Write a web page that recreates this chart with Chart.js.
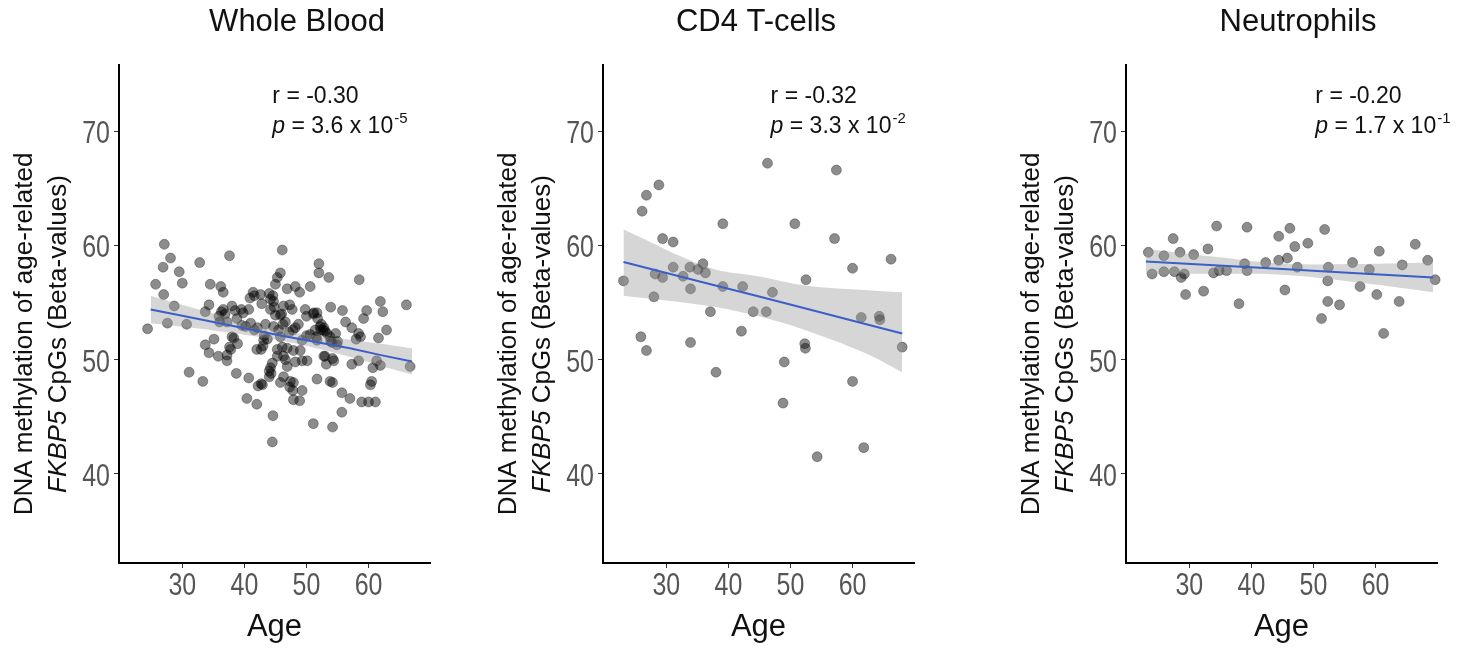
<!DOCTYPE html>
<html>
<head>
<meta charset="utf-8">
<script src="https://cdn.jsdelivr.net/npm/chart.js@4.4.0/dist/chart.umd.min.js"></script>
<style>
body{margin:0;background:#fff;width:1471px;height:650px;position:relative;overflow:hidden}
canvas{position:absolute;top:0}
</style>
</head>
<body>
<canvas id="wb" width="464" height="650" style="left:0"></canvas>
<canvas id="cd4" width="464" height="650" style="left:484px"></canvas>
<canvas id="neu" width="464" height="650" style="left:1007px"></canvas>
<script>
// age / methylation pairs for each cell type
const ageWB = [24.4,25.7,26.9,27.1,27.0,28.1,28.7,27.6,29.5,30.0,30.7,31.1,32.8,33.3,33.7,34.3,33.7,34.3,34.5,35.1,
  35.8,36.0,36.2,36.6,36.6,37.6,37.2,37.8,37.2,38.0,38.3,38.8,38.9,38.7,39.5,40.4,40.7,40.7,40.9,41.4,
  41.6,42.0,42.2,42.0,42.7,42.8,43.2,43.4,43.7,44.0,44.2,44.2,44.3,44.5,44.6,44.8,45.0,45.3,45.8,46.1,
  45.8,45.5,46.1,46.3,46.6,46.9,47.3,47.8,47.9,48.2,47.9,47.8,47.9,48.9,49.3,49.0,49.3,48.2,48.9,50.0,
  49.8,50.6,51.1,51.4,51.1,51.7,52.0,52.0,52.4,52.7,53.0,53.6,53.9,53.9,54.2,54.2,54.4,54.7,55.0,55.7,
  55.7,55.8,56.3,57.0,57.3,57.3,58.0,58.4,58.4,58.5,58.9,59.2,59.7,60.0,60.3,60.7,61.1,61.3,61.6,61.9,
  62.3,62.9,66.1,66.7,35.9,38.5,37.2,37.6,38.0,39.8,42.6,41.0,42.1,42.9,44.0,44.5,43.1,43.0,44.7,44.2,
  45.0,44.7,46.3,46.2,45.8,45.3,45.3,46.6,46.9,47.2,47.7,45.8,47.3,50.1,48.7,48.2,50.0,51.2,51.7,51.8,
  51.6,51.7,52.2,52.8,53.3,53.8,54.1,54.9,52.8,53.2,54.2,53.8,58.7,61.9,60.5,49.3,50.6,46.9,46.3,47.4,
  42.7,41.6,44.6,52.3,53.0,44.0,46.0,40.2,39.6,36.3,36.9];
const methWB = [52.7,56.6,58.1,60.1,55.7,58.9,54.7,53.2,57.7,56.7,53.1,48.9,58.5,48.1,51.3,50.6,54.2,54.8,56.6,51.8,
  50.3,53.3,56.4,55.9,54.4,59.1,53.3,50.9,49.9,54.7,51.9,53.6,51.4,48.8,54.4,46.6,48.4,54.4,55.4,55.9,
  52.6,50.9,47.7,46.1,47.9,54.9,52.1,53.1,51.8,55.8,55.3,49.3,48.8,42.8,45.1,54.6,56.6,57.2,57.6,59.6,
  53.9,52.6,51.1,50.3,53.3,56.2,54.8,52.6,50.8,49.8,48.0,47.3,46.5,46.4,47.3,50.8,49.9,56.4,55.9,52.1,
  54.4,56.4,54.0,52.6,44.4,48.3,58.4,57.6,53.1,52.6,50.3,57.2,54.6,51.6,48.0,44.1,49.9,52.3,51.6,47.1,
  45.4,54.3,53.3,46.6,52.8,49.6,51.8,49.9,52.3,57.0,46.3,53.6,54.3,46.3,47.8,49.3,46.3,49.9,51.9,55.1,
  54.2,52.6,54.8,49.4,53.8,54.3,50.4,51.1,52.0,54.1,55.7,53.2,52.8,47.8,49.0,49.7,51.7,51.2,55.1,54.4,
  53.9,52.9,54.7,53.1,52.0,50.9,50.3,50.0,51.0,52.4,54.4,48.0,47.6,49.9,53.1,52.8,53.8,54.1,54.1,53.6,
  52.0,51.7,52.9,52.8,52.3,52.0,51.5,51.3,50.3,49.6,50.1,48.1,52.0,49.5,48.1,51.7,52.2,49.4,48.5,48.1,
  50.9,55.6,55.6,52.6,52.5,48.5,54.0,52.9,53.0,54.2,54.0];

const ageCD4 = [23.1,26.1,26.8,28.8,29.4,31.1,31.1,28.2,29.4,28.0,25.9,26.8,32.7,33.8,33.9,35.1,35.9,36.3,33.9,37.1,
  38.0,39.1,39.1,42.1,42.3,44.0,46.1,46.3,47.1,49.0,48.8,50.7,52.5,52.3,52.4,54.3,57.1,57.4,60.0,60.0,
  61.4,61.8,64.3,64.4,66.2,68.0];
const methCD4 = [56.9,63.0,64.4,65.3,60.6,60.3,58.1,57.5,57.2,55.5,52.0,50.8,57.3,58.1,56.2,57.9,58.4,57.6,51.5,54.2,
  48.9,61.9,56.4,52.5,56.4,54.2,54.2,67.2,55.9,49.8,46.2,61.9,57.0,51.4,51.0,41.5,60.6,66.6,58.0,48.1,
  53.7,42.3,53.8,53.5,58.8,51.1];

const ageNeu = [23.4,24.0,25.9,25.9,27.4,27.6,28.5,28.7,29.2,29.4,30.7,32.3,33.0,33.9,34.4,34.8,36.0,38.0,38.9,39.3,
  39.3,42.3,44.4,44.4,45.4,45.8,46.2,47.0,47.4,49.1,51.3,51.8,52.3,52.4,52.3,54.2,56.3,57.5,59.0,60.2,
  60.6,61.3,63.8,64.3,66.4,68.4,69.6];
const methNeu = [59.4,57.5,59.1,57.7,60.6,57.7,59.4,57.2,57.5,55.7,59.2,56.0,59.7,57.6,61.7,57.8,57.8,54.9,58.4,57.8,
  61.6,58.5,60.8,58.7,56.1,58.9,61.5,59.9,58.1,60.2,53.6,61.4,56.9,58.1,55.1,54.8,58.5,56.4,57.9,55.7,
  59.5,52.3,55.1,58.3,60.1,58.7,57.0];

// fitted line with confidence band
const fitXWB = [24.9,30,35,46,57,62,67];
const fitWB = [54.4,53.85,53.3,52.1,51.0,50.4,49.85];
const fitLoWB = [53.2,52.9,52.55,51.65,50.25,49.45,48.7];
const fitHiWB = [55.6,54.8,54.05,52.55,51.75,51.4,51.0];

const fitXCD4 = [23.1,36.8,44.8,52.3,61.9,68.0];
const fitCD4 = [58.55,56.65,55.55,54.5,53.15,52.3];
const fitLoCD4 = [55.6,54.7,53.8,52.6,50.6,48.9];
const fitHiCD4 = [61.4,58.1,57.3,56.5,56.1,55.9];

const fitXNeu = [23.0,34,45,57,69.3];
const fitNeu = [58.6,58.27,57.93,57.57,57.2];
const fitLoNeu = [57.5,57.52,57.43,56.77,55.9];
const fitHiNeu = [59.7,59.02,58.43,58.37,58.5];

const xTicks = [30,40,50,60];
const yTicks = [40,50,60,70];

const titles = ['Whole Blood','CD4 T-cells','Neutrophils'];
const rLabels = ['r = -0.30','r = -0.32','r = -0.20'];
const pMantissa = ['3.6','3.3','1.7'];
const pExponent = ['-5','-2','-1'];

const SANS = '"Liberation Sans", Arial, sans-serif';

// squeezed tick numbers drawn next to the library's tick marks
function drawTickLabels(ctx, scale, horizontal) {
  ctx.save();
  ctx.fillStyle = '#555';
  ctx.font = '32px ' + SANS;
  ctx.textBaseline = 'middle';
  ctx.textAlign = horizontal ? 'center' : 'right';
  scale.ticks.forEach(t => {
    const p = scale.getPixelForValue(t.value);
    ctx.save();
    if (horizontal) ctx.translate(p, 586);
    else ctx.translate(scale.right - 9, p + 3);
    ctx.scale(0.78, 1);
    ctx.fillText(String(t.value), 0, 0);
    ctx.restore();
  });
  ctx.restore();
}

// titles, y axis title and r / p notes
const panelText = {
  id: 'panelText',
  afterDraw(chart, args, o) {
    const ctx = chart.ctx;
    const xs = chart.scales.x, ys = chart.scales.y;
    drawTickLabels(ctx, xs, true);
    drawTickLabels(ctx, ys, false);

    ctx.save();
    ctx.fillStyle = '#111';
    ctx.textBaseline = 'middle';

    ctx.font = '31px ' + SANS;
    ctx.textAlign = 'center';
    ctx.fillText(o.title, o.titleX, 22);

    // rotated two-line y title, second line starts with italic gene name
    ctx.save();
    ctx.translate(25, 334);
    ctx.rotate(-Math.PI / 2);
    ctx.font = '26px ' + SANS;
    ctx.fillText('DNA methylation of age-related', 0, 0);
    ctx.textAlign = 'left';
    const gene = 'FKBP5', rest = ' CpGs (Beta-values)';
    ctx.font = 'italic 26px ' + SANS;
    const gw = ctx.measureText(gene).width;
    ctx.font = '26px ' + SANS;
    const rw = ctx.measureText(rest).width;
    let sx = -(gw + rw) / 2;
    ctx.font = 'italic 26px ' + SANS;
    ctx.fillText(gene, sx, 34);
    ctx.font = '26px ' + SANS;
    ctx.fillText(rest, sx + gw, 34);
    ctx.restore();

    // correlation note
    const nx = xs.getPixelForValue(o.noteX);
    ctx.textAlign = 'left';
    ctx.font = '23px ' + SANS;
    ctx.fillText(o.r, nx, ys.getPixelForValue(73.0));
    const py = ys.getPixelForValue(70.4);
    ctx.font = 'italic 23px ' + SANS;
    ctx.fillText('p', nx, py);
    let px = nx + ctx.measureText('p').width;
    ctx.font = '23px ' + SANS;
    const body = ' = ' + o.mant + ' x 10';
    ctx.fillText(body, px, py);
    px += ctx.measureText(body).width;
    ctx.font = '15px ' + SANS;
    ctx.fillText(o.exp, px + 1, py - 8);
    ctx.restore();
  }
};

function pts(xs, ys) {
  return xs.map((x, i) => ({x: x, y: ys[i]}));
}

function makePanel(id, i, ages, meth, fx, fy, flo, fhi, titleX, noteX) {
  new Chart(document.getElementById(id), {
    type: 'scatter',
    data: {
      datasets: [
        {type: 'line', data: pts(fx, fy), borderColor: '#3b5fc8', borderWidth: 2,
         pointRadius: 0, fill: false, order: 0},
        {type: 'line', data: pts(fx, fhi), borderWidth: 0, pointRadius: 0, tension: 0.4,
         fill: '+1', backgroundColor: 'rgba(153,153,153,0.4)', order: 1},
        {type: 'line', data: pts(fx, flo), borderWidth: 0, pointRadius: 0, tension: 0.4,
         fill: false, order: 1},
        {data: pts(ages, meth), pointRadius: 5, backgroundColor: 'rgba(0,0,0,0.45)',
         borderColor: 'rgba(0,0,0,0.3)', borderWidth: 1, order: 2, clip: false}
      ]
    },
    options: {
      responsive: false,
      animation: false,
      layout: {padding: {top: 65, right: 34, bottom: 0, left: 0}},
      plugins: {
        legend: {display: false},
        tooltip: {enabled: false},
        panelText: {title: titles[i], titleX: titleX, noteX: noteX, r: rLabels[i],
                    mant: pMantissa[i], exp: pExponent[i]}
      },
      scales: {
        x: {
          type: 'linear', min: 19.8, max: 69.9,
          afterBuildTicks: s => { s.ticks = xTicks.map(v => ({value: v})); },
          afterFit: s => { s.height = 87; },
          ticks: {display: false},
          grid: {drawOnChartArea: false, drawTicks: true, tickLength: 5, color: '#333'},
          border: {display: true, color: '#000', width: 2},
          title: {display: true, text: 'Age', color: '#111', font: {family: SANS, size: 31},
                  padding: {top: 0, bottom: 4}}
        },
        y: {
          type: 'linear', min: 32.2, max: 75.8,
          afterBuildTicks: s => { s.ticks = yTicks.map(v => ({value: v})); },
          afterFit: s => { s.width = 119; },
          ticks: {display: false},
          grid: {drawOnChartArea: false, drawTicks: true, tickLength: 5, color: '#333'},
          border: {display: true, color: '#000', width: 2}
        }
      }
    },
    plugins: [panelText]
  });
}

makePanel('wb', 0, ageWB, methWB, fitXWB, fitWB, fitLoWB, fitHiWB, 297, 44.5);
makePanel('cd4', 1, ageCD4, methCD4, fitXCD4, fitCD4, fitLoCD4, fitHiCD4, 272, 46.8);
makePanel('neu', 2, ageNeu, methNeu, fitXNeu, fitNeu, fitLoNeu, fitHiNeu, 291, 50.3);
</script>
</body>
</html>
